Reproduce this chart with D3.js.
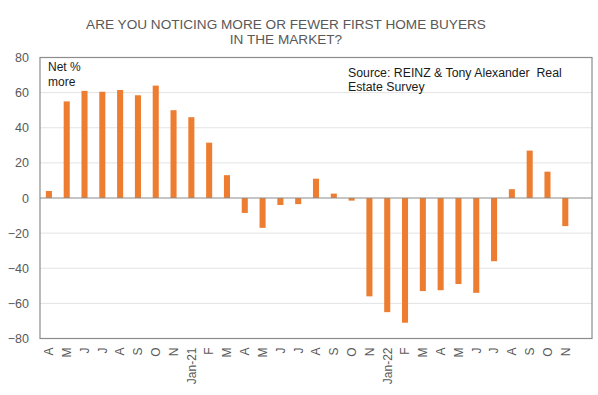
<!DOCTYPE html>
<html>
<head>
<meta charset="utf-8">
<script src="https://cdn.jsdelivr.net/npm/d3@7"></script>
<style>
  body { margin: 0; background: #fff; }
  svg text { font-family: "Liberation Sans", Arial, sans-serif; }
</style>
</head>
<body>
<div id="chart"></div>
<script>
// months surveyed (no December), last slot left empty as in the original
const months = ['A', 'M', 'J', 'J', 'A', 'S', 'O', 'N', 'Jan-21', 'F', 'M', 'A', 'M', 'J', 'J', 'A', 'S', 'O', 'N',
  'Jan-22', 'F', 'M', 'A', 'M', 'J', 'J', 'A', 'S', 'O', 'N', ''];
const netMore = [4, 55, 61, 60.5, 61.5, 58.5, 64, 50, 46, 31.5, 13, -8.5, -17, -4, -3.5, 11, 2.5, -1.5, -56,
  -65, -71, -53, -52.5, -49, -54, -36, 5, 27, 15, -16, null];
const yTicks = [80, 60, 40, 20, 0, -20, -40, -60, -80];
const titleLines = ['ARE YOU NOTICING MORE OR FEWER FIRST HOME BUYERS', 'IN THE MARKET?'];
const sourceLines = ['Source: REINZ & Tony Alexander  Real', 'Estate Survey'];
const unitLines = ['Net %', 'more'];

const w = 598;
const h = 395;
const plotLeft = 40, plotRight = 592, plotTop = 57.5, plotBottom = 338.5;

const svg = d3.select('#chart')
  .append('svg')
  .attr('width', w)
  .attr('height', h);

const xScale = d3.scaleBand()
  .domain(d3.range(months.length))
  .range([plotLeft, plotRight])
  .paddingInner(0.66)
  .paddingOuter(0.33);

const yScale = d3.scaleLinear()
  .domain([-80, 80])
  .range([plotBottom, plotTop]);

// gridlines
svg.append('g')
  .selectAll('line')
  .data(yTicks.filter(d => d !== 0 && Math.abs(d) !== 80))
  .enter()
  .append('line')
  .attr('x1', plotLeft)
  .attr('x2', plotRight)
  .attr('y1', d => yScale(d))
  .attr('y2', d => yScale(d))
  .attr('stroke', '#e3e3e3')
  .attr('stroke-width', 1);

// bars
const barData = netMore.map((v, i) => ({ i: i, v: v })).filter(d => d.v !== null);

svg.append('g')
  .selectAll('rect')
  .data(barData)
  .enter()
  .append('rect')
  .attr('x', d => xScale(d.i))
  .attr('width', xScale.bandwidth())
  .attr('y', d => yScale(Math.max(0, d.v)))
  .attr('height', d => Math.abs(yScale(d.v) - yScale(0)))
  .attr('fill', '#ED7D31');

// zero line
svg.append('line')
  .attr('x1', plotLeft)
  .attr('x2', plotRight)
  .attr('y1', yScale(0))
  .attr('y2', yScale(0))
  .attr('stroke', '#8c8c8c')
  .attr('stroke-width', 1.2);

// frame
svg.append('rect')
  .attr('x', plotLeft)
  .attr('y', plotTop)
  .attr('width', plotRight - plotLeft)
  .attr('height', plotBottom - plotTop)
  .attr('fill', 'none')
  .attr('stroke', '#8c8c8c')
  .attr('stroke-width', 1.2);

// y axis labels
const yAxis = d3.axisLeft(yScale)
  .tickValues(yTicks)
  .tickSize(0)
  .tickPadding(11);

svg.append('g')
  .attr('transform', 'translate(' + plotLeft + ', 0)')
  .call(yAxis)
  .call(g => g.select('.domain').remove())
  .selectAll('text')
  .attr('font-size', 12.5)
  .attr('font-family', '"Liberation Sans", Arial, sans-serif')
  .attr('fill', '#595959');

// x axis labels
const xAxis = d3.axisBottom(xScale)
  .tickFormat(i => months[i])
  .tickSize(0);

svg.append('g')
  .attr('transform', 'translate(0, ' + plotBottom + ')')
  .call(xAxis)
  .call(g => g.select('.domain').remove())
  .selectAll('text')
  .attr('font-size', 12)
  .attr('font-family', '"Liberation Sans", Arial, sans-serif')
  .attr('fill', '#595959')
  .attr('text-anchor', 'end')
  .attr('transform', 'rotate(-90)')
  .attr('x', -9)
  .attr('y', 0)
  .attr('dy', '0.36em');

// title
svg.append('g')
  .selectAll('text')
  .data(titleLines)
  .enter()
  .append('text')
  .attr('x', 286)
  .attr('y', (d, i) => 29 + i * 15)
  .attr('text-anchor', 'middle')
  .attr('font-size', 13.6)
  .attr('fill', '#595959')
  .text(d => d);

// unit note
svg.append('g')
  .selectAll('text')
  .data(unitLines)
  .enter()
  .append('text')
  .attr('x', 48)
  .attr('y', (d, i) => 71 + i * 15)
  .attr('font-size', 12)
  .attr('fill', '#1a1a1a')
  .text(d => d);

// source note
svg.append('g')
  .selectAll('text')
  .data(sourceLines)
  .enter()
  .append('text')
  .attr('x', 348)
  .attr('y', (d, i) => 77 + i * 14)
  .attr('font-size', 12.3)
  .attr('fill', '#1a1a1a')
  .style('white-space', 'pre')
  .text(d => d);
</script>
</body>
</html>
